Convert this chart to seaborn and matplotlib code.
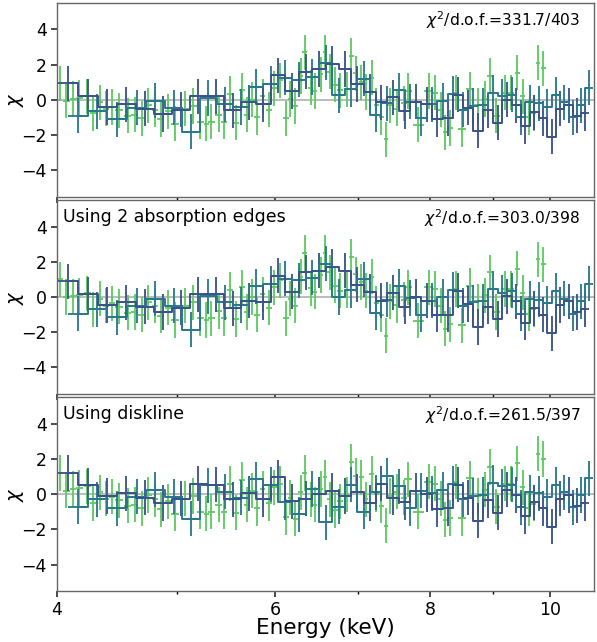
import matplotlib
matplotlib.use("Agg")
import matplotlib.pyplot as plt
from matplotlib.ticker import FixedLocator, ScalarFormatter, NullFormatter
import numpy as np
import pandas as pd
import seaborn as sns

# ── data: energies (keV) per instrument ─────────────────────────────────────
e_blue = [4.08, 4.24, 4.39, 4.55, 4.71, 4.87, 5.04, 5.20, 5.37, 5.55,
          5.71, 5.87, 6.03, 6.19, 6.35, 6.51, 6.67, 6.83, 6.99, 7.15,
          7.31, 7.47, 7.63, 7.79, 7.95, 8.11, 8.27, 8.43, 8.59, 8.75,
          8.91, 9.07, 9.23, 9.39, 9.55, 9.71, 9.87, 10.03, 10.19, 10.35,
          10.51, 10.67]
e_teal = [4.16, 4.31, 4.47, 4.64, 4.80, 4.97, 5.13, 5.30, 5.47, 5.63,
          5.79, 5.95, 6.11, 6.27, 6.43, 6.59, 6.75, 6.91, 7.07, 7.23,
          7.39, 7.55, 7.71, 7.87, 8.03, 8.19, 8.35, 8.51, 8.67, 8.83,
          8.99, 9.15, 9.31, 9.47, 9.63, 9.79, 9.95, 10.11, 10.27, 10.43,
          10.59, 10.75]
e_green = [4.02, 4.07, 4.12, 4.17, 4.23, 4.28, 4.33, 4.38, 4.43, 4.49,
           4.56, 4.62, 4.68, 4.74, 4.80, 4.85, 4.92, 4.98, 5.07, 5.15,
           5.22, 5.28, 5.33, 5.40, 5.46, 5.52, 5.58, 5.64, 5.69, 5.75,
           5.80, 5.86, 5.93, 5.99, 6.05, 6.12, 6.17, 6.23, 6.29, 6.34,
           6.41, 6.46, 6.53, 6.58, 6.64, 6.71, 6.77, 6.85, 6.91, 6.97,
           7.04, 7.10, 7.18, 7.24, 7.31, 7.37, 7.42, 7.52, 7.62, 7.68,
           7.83, 7.98, 8.08, 8.16, 8.23, 8.31, 8.39, 8.49, 8.62, 8.74,
           8.86, 8.94, 9.05, 9.19, 9.30, 9.41, 9.50, 9.61, 9.70, 9.78,
           9.87]

# ── residuals, panel 1 (baseline model) ─────────────────────────────────────
chi_blue_1 = [0.95, 0.2, -0.4, -0.25, -0.5, -0.8, -0.55, 0.2, 0.2, -0.6,
              -0.15, -0.25, 1.4, 0.5, 1.6, 1.75, 2.05, 1.75, 0.9, 0.45,
              -0.15, 0.15, -0.65, -0.1, -0.25, -1.1, -1.05, 0.3, -0.45, -1.75,
              -0.6, -1.3, 0.0, -0.3, -1.5, -0.7, -1.05, -2.1, -0.5, -0.3,
              -0.9, -0.75]
chi_teal_1 = [-0.9, -0.65, -1.1, -0.45, -0.05, -0.45, -1.8, 0.1, -0.25, -0.4,
              0.75, 0.9, 1.25, 1.15, 1.3, 2.1, 0.25, 0.6, 1.2, -0.85,
              -0.2, 0.55, -0.1, -1.05, -0.25, -0.05, 0.35, -0.55, -0.35, -0.3,
              0.4, 0.2, 0.3, -1.0, -0.15, -0.2, -0.4, 0.3, -0.15, -1.0,
              -0.3, 0.7]
chi_green_1 = [0.95, -0.05, 0.05, 0.1, 0.2, -0.75, -0.15, -0.5, -0.4, -0.6,
               -0.9, -0.85, -1.05, -0.3, -0.55, -1.1, -0.65, -1.35, -0.5, -0.35,
               -1.25, -1.35, -1.25, -0.85, -1.25, 0.35, -1.3, 0.55, -0.85, 0.0,
               -1.0, 0.2, -0.55, 0.65, 1.1, -1.05, 0.05, -0.35, 1.35, 2.7,
               0.7, 0.5, 1.45, 2.7, 1.6, 0.85, 0.55, 0.6, 2.5, 1.5,
               1.0, 0.45, 1.25, -0.3, -1.0, -2.25, -0.3, -0.5, -0.2, 0.5,
               -1.4, 0.5, 0.4, -0.55, -1.85, -1.6, 0.4, -1.65, 0.6, -0.3,
               0.05, 1.35, -0.9, 0.4, 0.4, 1.55, 0.2, -1.0, -0.75, 2.1,
               1.8]

# ── residuals, panel 2 (2 absorption edges) ─────────────────────────────────
chi_blue_2 = [0.9, 0.15, -0.45, -0.3, -0.55, -0.85, -0.6, 0.15, 0.15, -0.65,
              -0.2, -0.3, 1.2, 0.3, 1.4, 1.5, 1.7, 1.5, 0.7, 0.3,
              -0.2, 0.25, -0.55, 0.0, -0.2, -1.0, -1.0, 0.35, -0.4, -1.7,
              -0.55, -1.25, 0.05, -0.25, -1.45, -0.65, -1.0, -2.05, -0.45, -0.25,
              -0.85, -0.7]
chi_teal_2 = [-0.95, -0.7, -1.15, -0.5, -0.1, -0.5, -1.85, 0.05, -0.3, -0.45,
              0.6, 0.75, 1.05, 0.95, 1.1, 1.9, 0.0, 0.4, 1.0, -0.9,
              -0.15, 0.6, -0.05, -1.0, -0.2, 0.0, 0.4, -0.5, -0.3, -0.25,
              0.45, 0.25, 0.35, -0.95, -0.1, -0.15, -0.35, 0.35, -0.1, -0.95,
              -0.25, 0.75]
chi_green_2 = [1.0, 0.0, 0.05, 0.1, 0.2, -0.7, -0.1, -0.5, -0.35, -0.55,
               -0.9, -0.85, -1.0, -0.3, -0.5, -1.05, -0.6, -1.3, -0.5, -0.3,
               -1.2, -1.3, -1.2, -0.8, -1.2, 0.4, -1.25, 0.55, -0.85, 0.0,
               -1.0, 0.15, -0.6, 0.55, 0.95, -1.2, -0.1, -0.5, 1.15, 2.5,
               0.5, 0.3, 1.25, 2.5, 1.4, 0.65, 0.35, 0.4, 2.3, 1.3,
               0.85, 0.35, 1.15, -0.35, -1.0, -2.2, -0.25, -0.45, -0.15, 0.55,
               -1.35, 0.55, 0.45, -0.5, -1.8, -1.55, 0.45, -1.6, 0.65, -0.25,
               0.1, 1.4, -0.85, 0.45, 0.45, 1.6, 0.25, -0.95, -0.7, 2.15,
               1.85]

# ── residuals, panel 3 (diskline) ───────────────────────────────────────────
chi_blue_3 = [1.2, 0.5, -0.1, 0.05, -0.2, -0.5, -0.25, 0.6, 0.55, -0.3,
              0.05, -0.3, 0.95, -0.4, -0.25, 0.0, 0.2, -0.1, 0.15, -0.5,
              0.6, -0.2, -0.45, 0.2, 0.0, -0.85, -0.8, 0.55, -0.2, -1.5,
              -0.35, -1.05, 0.25, -0.05, -1.25, -0.45, -0.8, -1.85, -0.25, -0.05,
              -0.65, -0.5]
chi_teal_3 = [-0.7, -0.3, -0.8, -0.15, 0.25, -0.15, -1.4, 0.5, 0.15, -0.2,
              0.85, 0.55, -0.45, -1.15, 0.3, -1.6, -0.7, 0.55, -1.0, 0.1,
              1.05, 0.45, -0.8, 0.2, 0.05, 0.25, 0.6, -0.3, -0.1, -0.05,
              0.65, 0.45, 0.55, -0.75, 0.1, 0.05, -0.15, 0.55, 0.1, -0.75,
              -0.05, 0.9]
chi_green_3 = [1.2, 0.2, 0.3, 0.35, 0.45, -0.5, 0.1, -0.25, -0.15, -0.35,
               -0.65, -0.6, -0.8, -0.05, -0.3, -0.85, -0.4, -1.1, -0.25, -0.1,
               -1.0, -1.1, -1.0, -0.6, -1.0, 0.6, -1.05, 0.8, -0.6, 0.2,
               -0.8, 0.3, -0.5, 0.4, 0.6, -1.3, -0.2, -1.4, 0.1, 1.2,
               -0.3, -0.6, 0.3, 0.95, -0.3, -0.9, -0.4, 0.0, 1.85, 1.05,
               0.95, -0.3, 1.15, 0.0, -0.65, -1.8, -0.1, 0.15, -0.2, 0.85,
               -1.0, 0.7, 0.6, -0.25, -1.45, -1.35, 0.7, -1.35, 0.9, -0.1,
               0.25, 1.55, -0.7, 0.6, 0.6, 1.75, 0.4, -0.8, -0.55, 2.3,
               2.0]

panel_labels = ["", "Using 2 absorption edges", "Using diskline"]
chi2_text = ["331.7/403", "303.0/398", "261.5/397"]

# ── style ───────────────────────────────────────────────────────────────────
COL_BLUE = "#3b528b"
COL_TEAL = "#2a788e"
COL_GREEN = "#5ec962"

sns.set_theme(style="ticks")
plt.rcParams["font.family"] = ["DejaVu Sans"]
plt.rcParams["mathtext.fontset"] = "dejavusans"
plt.rcParams["text.color"] = "black"
plt.rcParams["axes.labelcolor"] = "black"
plt.rcParams["xtick.color"] = "black"
plt.rcParams["ytick.color"] = "black"


def half_widths(e):
    e = np.asarray(e)
    return np.gradient(e) / 2.0


panels = [
    (chi_blue_1, chi_teal_1, chi_green_1),
    (chi_blue_2, chi_teal_2, chi_green_2),
    (chi_blue_3, chi_teal_3, chi_green_3),
]

fig, axes = plt.subplots(3, 1, figsize=(5.97, 6.42), dpi=100, sharex=True)
fig.subplots_adjust(left=0.0955, right=0.995, top=0.9953, bottom=0.0794,
                    hspace=0.018)

for i, (ax, (cb, ct, cg)) in enumerate(zip(axes, panels)):
    ax.axhline(0, color="#b0b0b0", lw=1.2, zorder=1)

    for e, c, col, steps in [(e_green, cg, COL_GREEN, False),
                             (e_teal, ct, COL_TEAL, True),
                             (e_blue, cb, COL_BLUE, True)]:
        df = pd.DataFrame({"E": e, "chi": c})
        ax.errorbar(df["E"], df["chi"], yerr=1.0, xerr=half_widths(e),
                    fmt="none", ecolor=col, elinewidth=1.4, alpha=0.95,
                    zorder=2)
        if steps:
            sns.lineplot(data=df, x="E", y="chi", ax=ax, color=col,
                         drawstyle="steps-mid", lw=1.4, estimator=None,
                         sort=False, zorder=3)

    ax.set_xscale("log")
    ax.set_xlim(4, 10.85)
    ax.set_ylim(-5.5, 5.5)
    ax.set_yticks([-4, -2, 0, 2, 4])
    ax.set_yticklabels(["\u22124", "\u22122", "0", "2", "4"])
    ax.set_ylabel(r"$\chi$", fontsize=14)
    ax.yaxis.set_label_coords(-0.058, 0.5)
    ax.set_xlabel("")
    ax.tick_params(axis="both", labelsize=12.5, length=4, color="#333333")
    ax.tick_params(axis="x", which="minor", length=2.5)
    for sp in ax.spines.values():
        sp.set_color("#666666")
        sp.set_linewidth(1.0)

    ax.text(0.974, 0.965, r"$\chi^2$/d.o.f.=" + chi2_text[i],
            transform=ax.transAxes, ha="right", va="top", fontsize=11.2)
    if panel_labels[i]:
        ax.text(0.012, 0.962, panel_labels[i], transform=ax.transAxes,
                ha="left", va="top", fontsize=12.5)

ax = axes[-1]
ax.xaxis.set_major_locator(FixedLocator([4, 6, 8, 10]))
ax.xaxis.set_minor_locator(FixedLocator([5, 7, 9]))
ax.xaxis.set_major_formatter(ScalarFormatter())
ax.xaxis.set_minor_formatter(NullFormatter())
ax.set_xlabel("Energy (keV)", fontsize=15.5, labelpad=-1)

fig.savefig("out.png", dpi=100)
